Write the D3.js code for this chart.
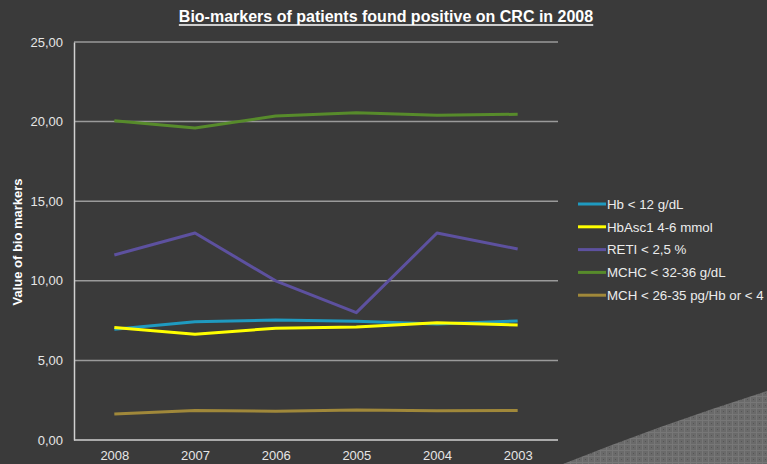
<!DOCTYPE html>
<html><head><meta charset="utf-8">
<script src="https://cdn.jsdelivr.net/npm/d3@7"></script>
<style>
html,body{margin:0;padding:0;background:#3a3a3a;overflow:hidden}
svg{display:block}
text{font-family:"Liberation Sans",Arial,sans-serif}
</style></head>
<body>
<script>
const years = ["2008","2007","2006","2005","2004","2003"];
const seriesNames = ["Hb < 12 g/dL","HbAsc1 4-6 mmol","RETI < 2,5 %","MCHC < 32-36 g/dL","MCH < 26-35 pg/Hb or < 4"];
const hb   = [6.95, 7.43, 7.54, 7.46, 7.29, 7.48];
const hba  = [7.06, 6.64, 7.02, 7.10, 7.37, 7.22];
const reti = [11.62, 13.0, 10.0, 8.0, 13.0, 12.0];
const mchc = [20.06, 19.6, 20.35, 20.56, 20.4, 20.46];
const mch  = [1.63, 1.86, 1.80, 1.88, 1.84, 1.86];
const yTicks = [0,5,10,15,20,25];
const colors = ["#1f9ac0","#ffff00","#5d519f","#578b2b","#a0883a"];
const allSeries = [hb, hba, reti, mchc, mch];

const W=767,H=464;
const svg=d3.select("body").append("svg").attr("width",W).attr("height",H);
svg.append("rect").attr("width",W).attr("height",H).attr("fill","#3a3a3a");

// decorative textured corner
const defs=svg.append("defs");
const pat=defs.append("pattern").attr("id","grid").attr("width",6).attr("height",6).attr("patternUnits","userSpaceOnUse");
pat.append("rect").attr("width",6).attr("height",6).attr("fill","#6a6a6a");
pat.append("path").attr("d","M0,0.5H6M0.5,0V6").attr("stroke","#777").attr("stroke-width",1);
pat.append("rect").attr("x",3).attr("y",3).attr("width",1).attr("height",1).attr("fill","#555");
svg.append("path").attr("d","M563,464 Q660,425 767,391 L767,464 Z").attr("fill","url(#grid)");

const x0=74,x1=558,yTop=42,yBot=440;
const x=d3.scalePoint().domain(years).range([x0,x1]).padding(0.5);
const y=d3.scaleLinear().domain([0,25]).range([yBot,yTop]);

// gridlines
svg.append("g").selectAll("line").data(yTicks.filter(d=>d>0)).join("line")
  .attr("x1",x0).attr("x2",x1).attr("y1",d=>y(d)).attr("y2",d=>y(d))
  .attr("stroke","#9a9a9a").attr("stroke-width",1.5);

// axes
const yAxis=svg.append("g").attr("transform",`translate(${x0},0)`)
  .call(d3.axisLeft(y).tickValues(yTicks).tickSize(0).tickPadding(11).tickFormat(d=>d3.format(".2f")(d).replace(".",",")));
yAxis.select(".domain").attr("stroke","#d0d0d0").attr("stroke-width",1.5);
yAxis.selectAll("text").attr("fill","#e6e6e6").style("font-size","13px");

const xAxis=svg.append("g").attr("transform",`translate(0,${yBot})`)
  .call(d3.axisBottom(x).tickSize(0).tickPadding(11));
xAxis.select(".domain").attr("d",`M${x0},0H${x1}`).attr("stroke","#d0d0d0").attr("stroke-width",1.5);
xAxis.selectAll("text").attr("fill","#e6e6e6").style("font-size","13px");

// lines
const line=d3.line().x((d,i)=>x(years[i])).y(d=>y(d));
const drawOrder=[3,2,0,1,4];
drawOrder.forEach(k=>{
  svg.append("path").datum(allSeries[k]).attr("d",line)
    .attr("fill","none").attr("stroke",colors[k]).attr("stroke-width",3).attr("stroke-linejoin","round");
});

// title
const t=svg.append("text").attr("x",386).attr("y",22).attr("text-anchor","middle")
  .attr("fill","#ffffff").style("font-size","16px").style("font-weight","bold")
  .text("Bio-markers of patients found positive on CRC in 2008");
const bb=t.node().getBBox();
svg.append("line").attr("x1",bb.x).attr("x2",bb.x+bb.width).attr("y1",25).attr("y2",25)
  .attr("stroke","#fff").attr("stroke-width",1.5);

// y title
svg.append("text").attr("transform","translate(22,242) rotate(-90)").attr("text-anchor","middle")
  .attr("fill","#ffffff").style("font-size","13px").style("font-weight","bold")
  .text("Value of bio markers");

// legend
const lg=svg.append("g").selectAll("g").data(seriesNames).join("g")
  .attr("transform",(d,i)=>`translate(578,${204+i*22.8})`);
lg.append("line").attr("x1",0).attr("x2",28).attr("stroke",(d,i)=>colors[i]).attr("stroke-width",3);
lg.append("text").attr("x",29).attr("y",4.8).attr("fill","#ececec").style("font-size","13.3px").text(d=>d);
</script>
</body></html>
